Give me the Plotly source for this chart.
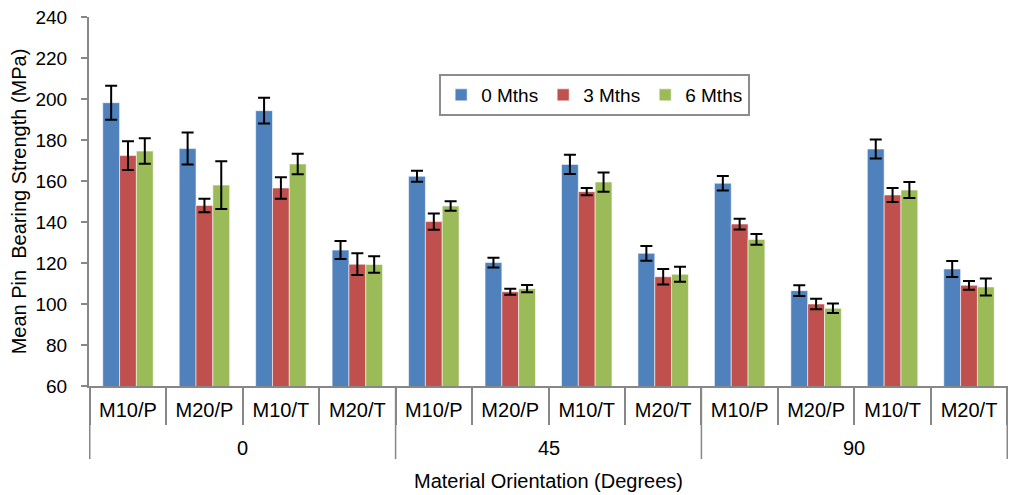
import plotly.graph_objects as go

orientations = ["0", "45", "90"]
materials = ["M10/P", "M20/P", "M10/T", "M20/T"]
series_names = ["0 Mths", "3 Mths", "6 Mths"]
colors = ["#4F81BD", "#C0504D", "#9BBB59"]

vals_0m = [198.2, 175.8, 194.3, 126.3, 162.3, 120.2, 168.1, 124.7, 158.9, 106.5, 175.6, 117.1]
err_0m = [8.3, 7.8, 6.3, 4.4, 2.7, 2.4, 4.7, 3.6, 3.5, 2.6, 4.6, 3.9]
vals_3m = [172.4, 148.1, 156.6, 119.4, 140.2, 106.0, 154.8, 113.3, 139.0, 100.0, 153.2, 109.1]
err_3m = [7.0, 3.3, 5.2, 5.3, 4.0, 1.5, 1.8, 3.8, 2.6, 2.6, 3.4, 2.1]
vals_6m = [174.6, 158.0, 168.3, 119.3, 147.8, 107.5, 159.5, 114.5, 131.5, 97.9, 155.6, 108.3]
err_6m = [6.2, 11.6, 5.0, 4.0, 2.3, 1.8, 4.7, 3.7, 2.6, 2.3, 3.9, 4.2]

# unique category keys (orientation|material), labelled by material
x_keys = [f"{o}|{m}" for o in orientations for m in materials]
x_labels = [m for _ in orientations for m in materials]

FONT = "Liberation Sans, Arial, sans-serif"
AXIS_GREY = "#878787"

fig = go.Figure()
for name, vals, errs, col in zip(series_names, [vals_0m, vals_3m, vals_6m],
                                 [err_0m, err_3m, err_6m], colors):
    fig.add_trace(go.Bar(
        x=x_keys, y=vals, name=name,
        marker=dict(color=col, line=dict(color="rgba(255,255,255,0.55)", width=1)),
        error_y=dict(type="data", array=errs, visible=True,
                     color="black", thickness=2, width=6),
    ))

# group dividers and orientation labels (second level of the category axis)
n_mat = len(materials)
shapes = []
annotations = []
for gi, o in enumerate(orientations):
    start = gi * n_mat - 0.5
    shapes.append(dict(type="line", xref="x", yref="paper", x0=start, x1=start,
                       y0=0, y1=-0.198, line=dict(color=AXIS_GREY, width=1.5)))
    annotations.append(dict(xref="x", yref="paper", x=start + n_mat / 2, y=-0.167,
                            text=o, showarrow=False, yanchor="middle",
                            font=dict(size=20, family=FONT, color="black")))
end = len(orientations) * n_mat - 0.5
shapes.append(dict(type="line", xref="x", yref="paper", x0=end, x1=end,
                   y0=0, y1=-0.198, line=dict(color=AXIS_GREY, width=1.5)))

fig.update_layout(
    width=1010, height=495,
    margin=dict(l=89, r=2, t=17, b=109),
    barmode="group", bargap=0.34, bargroupgap=0,
    plot_bgcolor="white", paper_bgcolor="white",
    font=dict(family=FONT, size=20, color="black"),
    shapes=shapes, annotations=annotations,
    legend=dict(orientation="h", x=0.381, y=0.8455, xanchor="left", yanchor="top",
                bordercolor="#8c8c8c", borderwidth=2, font=dict(size=19),
                bgcolor="white", itemwidth=30, traceorder="normal"),
    xaxis=dict(
        type="category", tickmode="array", tickvals=x_keys, ticktext=x_labels,
        tickson="boundaries",
        showline=True, linecolor=AXIS_GREY, linewidth=2,
        ticks="outside", tickcolor=AXIS_GREY, ticklen=37, tickwidth=1.5,
        ticklabelstandoff=5,
        tickfont=dict(size=20), automargin=False,
        title=dict(text="Material Orientation (Degrees)", font=dict(size=20), standoff=54),
    ),
    yaxis=dict(
        range=[60, 240], dtick=20, showgrid=False,
        showline=True, linecolor=AXIS_GREY, linewidth=2,
        ticks="outside", tickcolor=AXIS_GREY, ticklen=6, tickwidth=1.5,
        ticklabelstandoff=10,
        tickfont=dict(size=19), automargin=False,
        title=dict(text="Mean Pin  Bearing Strength (MPa)", font=dict(size=20), standoff=3),
        zeroline=False,
    ),
)

fig.write_html("out.html")
